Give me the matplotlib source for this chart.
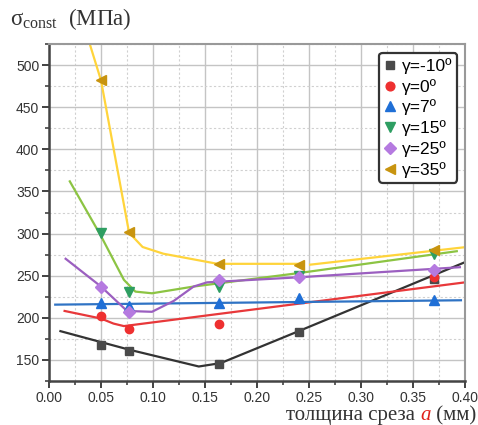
import numpy as np
import matplotlib.pyplot as plt
from matplotlib.offsetbox import TextArea, HPacker, AnchoredOffsetbox
from matplotlib.ticker import MultipleLocator

plt.rcParams['font.family'] = ['Liberation Sans', 'DejaVu Sans']
plt.rcParams['mathtext.fontset'] = 'custom'
plt.rcParams['mathtext.rm'] = 'Liberation Serif'
plt.rcParams['mathtext.it'] = 'Liberation Serif:italic'

# measured points
a_pts = [0.05, 0.077, 0.163, 0.24, 0.37]
s_m10 = [168, 160, 145, 183, 246]
s_0 = [202, 186, 193, None, 248]
s_7 = [218, 214, 218, 223, 221]
s_15 = [301, 231, 236, 249, 276]
s_25 = [236, 207, 245, 248, 257]
s_35 = [482, 302, 264, 263, 281]

# trend curves
fit_m10_x = [0.011, 0.05, 0.077, 0.144, 0.165, 0.24, 0.40]
fit_m10_y = [184, 171, 162, 142, 146, 184, 266]
fit_0_x = [0.015, 0.05, 0.062, 0.072, 0.40]
fit_0_y = [208, 199, 193, 190, 242]
fit_7_x = [0.006, 0.396]
fit_7_y = [215.5, 220.7]
fit_15_x = [0.020, 0.05, 0.072, 0.083, 0.099, 0.139, 0.24, 0.392]
fit_15_y = [362, 297, 245, 231, 229, 237, 253, 279]
fit_25_x = [0.016, 0.05, 0.075, 0.099, 0.120, 0.139, 0.152, 0.24, 0.395]
fit_25_y = [270, 237, 208, 207, 220, 237, 242, 248, 260]
fit_35_x = [0.0395, 0.05, 0.077, 0.090, 0.110, 0.162, 0.245, np.nan, 0.251, 0.398]
fit_35_y = [524, 482, 301, 284, 276, 264, 264, np.nan, 263, 283.5]

labels = ['γ=-10º', 'γ=0º', 'γ=7º', 'γ=15º', 'γ=25º', 'γ=35º']

fig = plt.figure(figsize=(4.78, 4.25), dpi=100)
ax = fig.add_axes([0.1025, 0.104, 0.8705, 0.792])

ax.plot(fit_m10_x, fit_m10_y, color='#333333', lw=1.6)
ax.plot(fit_0_x, fit_0_y, color='#e8383a', lw=1.6)
ax.plot(fit_7_x, fit_7_y, color='#2f73c4', lw=1.6)
ax.plot(fit_15_x, fit_15_y, color='#8cc443', lw=1.6)
ax.plot(fit_25_x, fit_25_y, color='#9b5fc0', lw=1.6)
ax.plot(fit_35_x, fit_35_y, color='#ffd43b', lw=1.6)

def pts(vals):
    x = [a for a, v in zip(a_pts, vals) if v is not None]
    y = [v for v in vals if v is not None]
    return x, y

ms = 7
ax.plot(*pts(s_m10), 's', color='#4a4a4a', ms=ms - 1, label=labels[0])
ax.plot(*pts(s_0), 'o', color='#ee3030', ms=ms - 1, label=labels[1])
ax.plot(*pts(s_7), '^', color='#1f6fd6', ms=ms, label=labels[2])
ax.plot(*pts(s_15), 'v', color='#2e9e62', ms=ms, label=labels[3])
ax.plot(*pts(s_25), 'D', color='#b57ae0', ms=ms - 1, label=labels[4])
ax.plot(*pts(s_35), '<', color='#c8940f', ms=ms, label=labels[5])

ax.set_xlim(0, 0.40)
ax.set_ylim(125, 525)
ax.xaxis.set_minor_locator(MultipleLocator(0.025))
ax.yaxis.set_minor_locator(MultipleLocator(25))
ax.set_xticks(np.arange(0, 0.401, 0.05))
ax.set_xticklabels(['%.2f' % v for v in np.arange(0, 0.401, 0.05)])
ax.set_yticks(np.arange(150, 501, 50))

ax.grid(which='major', color='#c4c4c4', lw=1)
ax.grid(which='minor', color='#d0d0d0', lw=0.8, ls=(0, (2, 2)))
ax.set_axisbelow(True)

ax.tick_params(which='major', direction='out', length=5, width=1.3,
               colors='#333333', labelsize=10, labelcolor='#333333', pad=2)
ax.tick_params(which='minor', direction='out', length=3, width=1.1, colors='#333333')
for s in ['left', 'bottom']:
    ax.spines[s].set_color('#444444')
    ax.spines[s].set_linewidth(1.8)
for s in ['top', 'right']:
    ax.spines[s].set_color('#999999')
    ax.spines[s].set_linewidth(1.5)

leg = ax.legend(loc='upper right', bbox_to_anchor=(0.99, 0.985), fontsize=12.5,
                handlelength=0.7, handletextpad=0.3, labelspacing=0.28,
                borderpad=0.3, borderaxespad=0.2, fancybox=True, framealpha=1,
                edgecolor='#333333', markerscale=1.05)
leg.get_frame().set_linewidth(1.6)

fig.text(0.02, 0.94, r'σ$_{\rm const}$  (МПа)', fontsize=16.5,
         family='Liberation Serif', color='#333333')

serif = dict(family='Liberation Serif', size=15, color='#333333')
parts = [TextArea('толщина среза ', textprops=serif),
         TextArea('a', textprops=dict(family='Liberation Serif', size=15,
                                      style='italic', color='#e0201b')),
         TextArea(' (мм)', textprops=serif)]
box = HPacker(children=parts, align='baseline', pad=0, sep=0)
anch = AnchoredOffsetbox(loc='lower right', child=box, frameon=False,
                         bbox_to_anchor=(0.996, 0.0), bbox_transform=fig.transFigure,
                         borderpad=0, pad=0)
fig.add_artist(anch)

fig.savefig('out.png', dpi=100)
